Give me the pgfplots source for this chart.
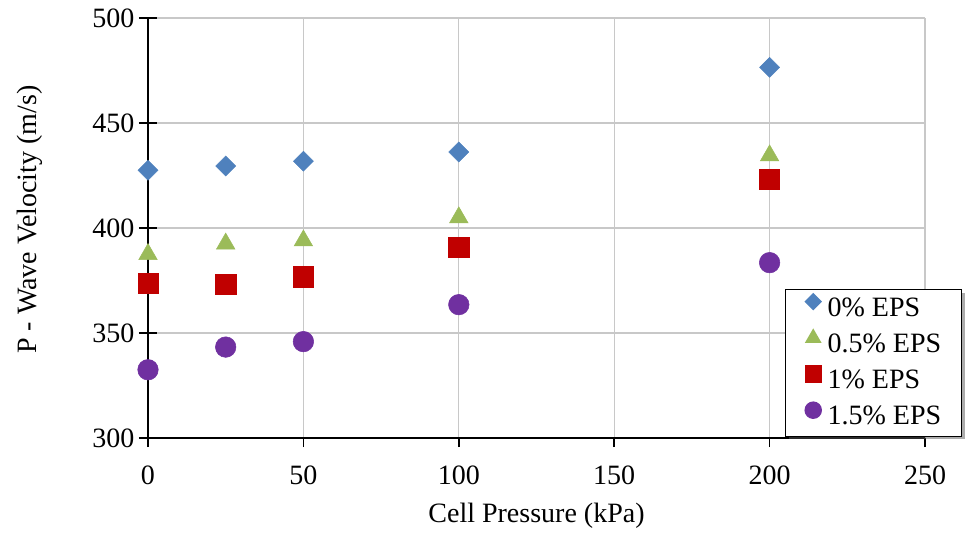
\documentclass[border=0pt]{standalone}
\usepackage{pgfplots}
\pgfplotsset{compat=1.18}
\usepackage{fontspec}
\setmainfont{Liberation Serif}
\usetikzlibrary{shadows}
\definecolor{cblue}{HTML}{4F81BD}
\definecolor{cgreen}{HTML}{9BBB59}
\definecolor{cred}{HTML}{C00000}
\definecolor{cpurple}{HTML}{7030A0}
\definecolor{gridgray}{HTML}{C8C8C8}
\newcommand{\chartfont}{\fontsize{21}{25}\selectfont}
\begin{document}
\begin{tikzpicture}[font=\chartfont]
\begin{axis}[
  scale only axis,
  width=582.75pt, height=315pt,
  xmin=0, xmax=250, ymin=300, ymax=500,
  xtick={0,50,...,250}, ytick={300,350,...,500},
  axis lines*=left,
  axis line style={black, line width=1.1pt},
  grid=major,
  major grid style={gridgray, line width=1pt},
  xtick align=outside, ytick align=center,
  major tick length=13.5pt,
  x tick style={black, line width=1.1pt, /pgfplots/major tick length=6.75pt},
  y tick style={black, line width=1.1pt},
  /pgf/number format/assume math mode=true,
  tick label style={font=\chartfont},
  xticklabel style={yshift=-4pt},
  xlabel={Cell Pressure (kPa)},
  ylabel={P - Wave Velocity (m/s)},
  label style={font=\chartfont},
  xlabel style={at={(axis description cs:0.5,0)}, anchor=center, yshift=-58pt},
  ylabel style={at={(axis description cs:-0.152,0.52)}, anchor=center},
  legend style={at={(0.82,0.355)}, anchor=north west, draw=black, line width=0.8pt, fill=white,
    drop shadow={shadow xshift=2.5pt, shadow yshift=-2.5pt, fill=black!65},
    font=\chartfont, row sep=4.5pt, inner xsep=14pt, inner ysep=3pt,
    legend cell align=left,
    nodes={inner xsep=1pt, inner ysep=1pt, text depth=4.5pt, text height=15pt}},
  legend image code/.code={%
    \path (0cm,0cm) (0.55cm,0.4cm);
    \begin{scope}[every mark/.append style={scale=0.8}]
    \path[draw=none] plot[only marks] coordinates {(0.22cm,0.2cm)};
    \end{scope}},
  clip=false,
]
\addplot[only marks, mark=square*, mark size=5.3pt, mark options={rotate=45, fill=cblue, draw=cblue}] coordinates {
(0,427.5) (25,429.5) (50,431.8) (100,436.2) (200,476.5)};
\addlegendentry{0\% EPS}
\addplot[only marks, mark=triangle*, mark size=8pt, mark options={fill=cgreen, draw=cgreen}] coordinates {
(0,387.5) (25,392.5) (50,394) (100,405) (200,434.5)};
\addlegendentry{0.5\% EPS}
\addplot[only marks, mark=square*, mark size=7.6pt, mark options={fill=cred, draw=cred}] coordinates {
(0,373.8) (25,373.3) (50,376.8) (100,390.8) (200,423.2)};
\addlegendentry{1\% EPS}
\addplot[only marks, mark=*, mark size=7.7pt, mark options={fill=cpurple, draw=cpurple}] coordinates {
(0,332.5) (25,343.3) (50,345.9) (100,363.5) (200,383.5)};
\addlegendentry{1.5\% EPS}
\end{axis}
\pgfresetboundingbox
\path[use as bounding box] (-111pt,-71.25pt) rectangle (614.25pt,328.5pt);
\end{tikzpicture}
\end{document}
